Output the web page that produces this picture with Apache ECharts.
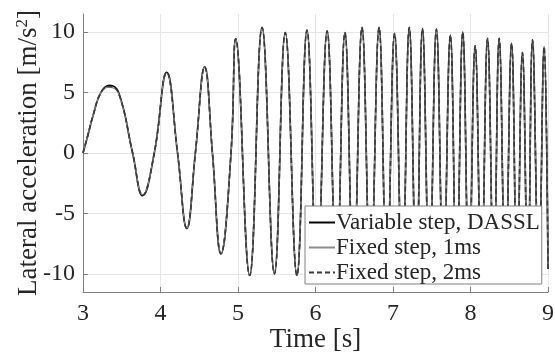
<!DOCTYPE html>
<html>
<head>
<meta charset="utf-8">
<script src="https://cdn.jsdelivr.net/npm/echarts@6/dist/echarts.min.js"></script>
<style>html,body{margin:0;padding:0;background:#fff}#c{width:555px;height:362px}</style>
</head>
<body>
<div id="c"></div>
<script>
const timeS = [3.00,3.06,3.13,3.23,3.34,3.46,3.64,3.77,3.92,4.08,4.22,4.34,4.45,4.57,4.67,4.78,4.91,4.97,
  5.15,5.31,5.47,5.61,5.76,5.89,6.02,6.15,6.27,6.38,6.49,6.60,6.71,6.82,6.92,7.02,7.12,7.21,7.30,7.38,7.47,
  7.56,7.65,7.74,7.82,7.90,7.98,8.06,8.14,8.22,8.30,8.37,8.45,8.53,8.60,8.67,8.74,8.80,8.88,8.95,9.00];
const variableStep = [0,1.4,3.1,5.0,5.6,5.0,0,-3.53,0,6.67,0,-6.25,0,7.13,0,-8.35,0,9.45,
  -10.14,10.39,-10.0,9.97,-10.14,10.17,-10.0,10.1,-10.0,9.97,-10.0,10.39,-10.0,10.39,-10.0,9.9,-10.0,10.39,-10.0,10.3,-10.0,
  10.25,-10.0,9.75,-10.0,10.0,-10.0,8.87,-10.0,9.48,-10.0,9.48,-10.0,9.07,-10.0,8.32,-10.0,9.37,-10.0,8.79,-9.6];
const fixed1ms = [0,1.4,3.1,5.0,5.45,4.9,0,-3.45,0,6.62,0,-6.2,0,7.1,0,-8.3,0,9.42,
  -10.1,10.36,-9.97,9.94,-10.1,10.14,-10.0,10.07,-10.0,9.95,-10.0,10.36,-10.0,10.36,-10.0,9.88,-10.0,10.36,-10.0,10.28,-10.0,
  10.22,-10.0,9.72,-10.0,9.97,-10.0,8.85,-10.0,9.45,-10.0,9.45,-10.0,9.05,-10.0,8.3,-10.0,9.35,-10.0,8.77,-9.55];
const fixed2ms = [0,1.4,3.1,5.0,5.5,4.95,0,-3.5,0,6.65,0,-6.22,0,7.12,0,-8.33,0,9.44,
  -10.12,10.38,-9.99,9.96,-10.12,10.16,-10.0,10.09,-10.0,9.96,-10.0,10.38,-10.0,10.38,-10.0,9.89,-10.0,10.38,-10.0,10.29,-10.0,
  10.24,-10.0,9.74,-10.0,9.99,-10.0,8.86,-10.0,9.47,-10.0,9.47,-10.0,9.06,-10.0,8.31,-10.0,9.36,-10.0,8.78,-9.58];
const xTicks = [3,4,5,6,7,8,9];
const yTicks = [-10,-5,0,5,10];

const pair = v => timeS.map((t,i)=>[t,v[i]]);
const font = 'Liberation Serif';
const chart = echarts.init(document.getElementById('c'), null, {renderer:'canvas'});
chart.setOption({
  animation:false,
  backgroundColor:'#fff',
  grid:{left:83,right:7,top:14,bottom:70,containLabel:false,outerBoundsMode:'none'},
  xAxis:{
    type:'value',min:3,max:9,interval:1,
    axisLine:{show:true,onZero:false,lineStyle:{color:'#808080',width:1}},
    axisTick:{show:true,inside:true,length:5,lineStyle:{color:'#808080'}},
    splitLine:{show:true,lineStyle:{color:'#e6e6e6',width:1}},
    axisLabel:{color:'#262626',fontFamily:font,fontSize:24,margin:10,
      formatter:v=>xTicks.includes(v)?String(v):''},
    name:'Time [s]',nameLocation:'middle',nameGap:34,nameMoveOverlap:false,
    nameTextStyle:{color:'#262626',fontFamily:font,fontSize:27}
  },
  yAxis:{
    type:'value',min:-11.5,max:11.5,
    axisLine:{show:true,onZero:false,lineStyle:{color:'#808080',width:1}},
    axisTick:{show:true,inside:true,length:5,lineStyle:{color:'#808080'},customValues:yTicks},
    splitLine:{show:true,lineStyle:{color:'#e6e6e6',width:1}},
    axisLabel:{color:'#262626',fontFamily:font,fontSize:24,margin:8,customValues:yTicks},
    name:'{a|Lateral acceleration [m/s}{s|2}{a|]}',nameLocation:'middle',nameGap:40,nameMoveOverlap:false,
    nameTextStyle:{rich:{
      a:{color:'#262626',fontFamily:font,fontSize:27},
      s:{color:'#262626',fontFamily:font,fontSize:17,verticalAlign:'top',padding:[0,0,12,0]}
    }}
  },
  legend:{
    orient:'vertical',left:305,top:206,z:20,
    padding:[5,2,0,3],itemGap:2,itemWidth:26,itemHeight:10,
    backgroundColor:'#fff',borderColor:'#808080',borderWidth:1,
    itemStyle:{opacity:0},
    textStyle:{color:'#262626',fontFamily:font,fontSize:23,lineHeight:23,padding:[0,0,0,-4]},
    data:['Variable step, DASSL','Fixed step, 1ms','Fixed step, 2ms']
  },
  series:[
    {name:'Variable step, DASSL',type:'line',data:pair(variableStep),smooth:0.45,symbol:'none',
      lineStyle:{color:'#000',width:1.6},itemStyle:{color:'#000'},z:2},
    {name:'Fixed step, 1ms',type:'line',data:pair(fixed1ms),smooth:0.45,symbol:'none',
      lineStyle:{color:'#8c8c8c',width:1.2},itemStyle:{color:'#8c8c8c'},z:2},
    {name:'Fixed step, 2ms',type:'line',data:pair(fixed2ms),smooth:0.45,symbol:'none',
      lineStyle:{color:'#3a3a3a',width:1.6,type:[5,3]},itemStyle:{color:'#3a3a3a'},z:2}
  ]
});
</script>
</body>
</html>
